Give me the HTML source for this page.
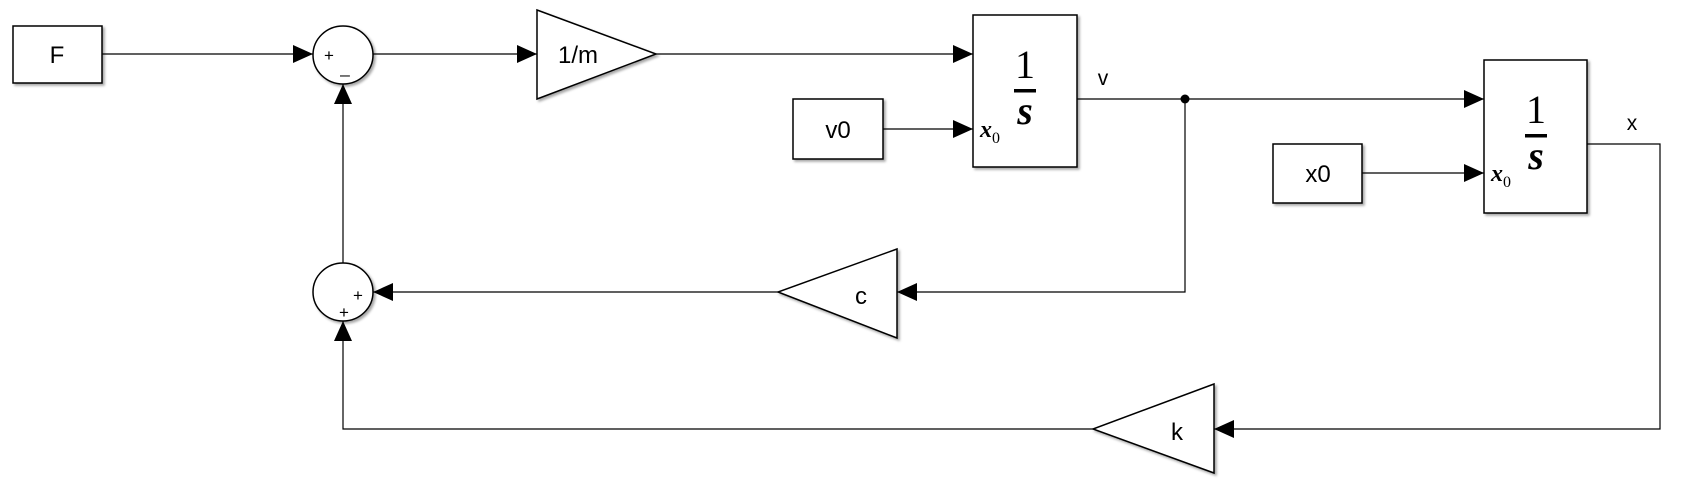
<!DOCTYPE html>
<html><head><meta charset="utf-8"><style>
html,body{margin:0;padding:0;background:#fff;}
svg{display:block;}
text{font-family:"Liberation Sans",sans-serif;}
.m{font-family:"Liberation Serif",serif;font-style:italic;}
</style></head><body>
<svg width="1691" height="489" viewBox="0 0 1691 489" xmlns="http://www.w3.org/2000/svg">
<defs>
<marker id="a" markerWidth="20" markerHeight="20" refX="20" refY="10" orient="auto" markerUnits="userSpaceOnUse">
<path d="M0,1 L20,10 L0,19 Z" fill="#000"/></marker>
<filter id="sh" x="-10%" y="-10%" width="130%" height="130%"><feDropShadow dx="2" dy="2" stdDeviation="1.2" flood-color="#000" flood-opacity="0.35"/></filter>
</defs>
<g fill="#fff" stroke="#000" stroke-width="1.5" filter="url(#sh)">
<rect x="13" y="26" width="89" height="57"/>
<ellipse cx="343" cy="55" rx="30" ry="29"/>
<ellipse cx="343" cy="292" rx="30" ry="29"/>
<polygon points="537,10 656,54 537,99"/>
<rect x="973" y="15" width="104" height="152"/>
<rect x="793" y="99" width="90" height="60"/>
<rect x="1484" y="60" width="103" height="153"/>
<rect x="1273" y="144" width="89" height="59"/>
<polygon points="897,249 778,292 897,338"/>
<polygon points="1214,384 1093,429 1214,473"/>
</g>
<g fill="none" stroke="#000" stroke-width="1.2">
<line x1="102" y1="54" x2="313" y2="54" marker-end="url(#a)"/>
<line x1="373" y1="54" x2="537" y2="54" marker-end="url(#a)"/>
<line x1="656" y1="54" x2="973" y2="54" marker-end="url(#a)"/>
<line x1="883" y1="129" x2="973" y2="129" marker-end="url(#a)"/>
<line x1="1077" y1="99" x2="1484" y2="99" marker-end="url(#a)"/>
<line x1="1362" y1="173" x2="1484" y2="173" marker-end="url(#a)"/>
<polyline points="1587,144 1660,144 1660,429 1214,429" marker-end="url(#a)"/>
<polyline points="1185,99 1185,292 897,292" marker-end="url(#a)"/>
<line x1="778" y1="292" x2="373" y2="292" marker-end="url(#a)"/>
<polyline points="1093,429 343,429 343,321" marker-end="url(#a)"/>
<line x1="343" y1="263" x2="343" y2="84" marker-end="url(#a)"/>
</g>
<circle cx="1185" cy="99" r="4.5" fill="#000"/>
<g font-size="24" text-anchor="middle" fill="#000">
<text x="57" y="63">F</text>
<text x="578" y="63">1/m</text>
<text x="838" y="138">v0</text>
<text x="1318" y="182">x0</text>
<text x="861" y="304">c</text>
<text x="1177" y="440">k</text>
<text x="1103" y="85" font-size="21">v</text>
<text x="1632" y="130" font-size="21">x</text>
</g>
<g font-size="17" fill="#000" text-anchor="middle">
<text x="329" y="61">+</text>
<text x="345" y="73">_</text>
<text x="358" y="301">+</text>
<text x="344" y="318">+</text>
</g>
<g fill="#000">
<text class="m" x="1025" y="78" font-size="40" text-anchor="middle" style="font-style:normal">1</text>
<rect x="1014" y="89" width="22" height="3.5"/>
<text class="m" x="1025" y="124" font-size="40" text-anchor="middle" font-weight="bold">s</text>
<text class="m" x="980" y="137" font-size="24" font-weight="bold">x</text><text class="m" x="992" y="143" font-size="16" style="font-style:normal">0</text>
<text class="m" x="1536" y="123" font-size="40" text-anchor="middle" style="font-style:normal">1</text>
<rect x="1525" y="134" width="22" height="3.5"/>
<text class="m" x="1536" y="169" font-size="40" text-anchor="middle" font-weight="bold">s</text>
<text class="m" x="1491" y="181" font-size="24" font-weight="bold">x</text><text class="m" x="1503" y="187" font-size="16" style="font-style:normal">0</text>
</g>
</svg>
</body></html>
